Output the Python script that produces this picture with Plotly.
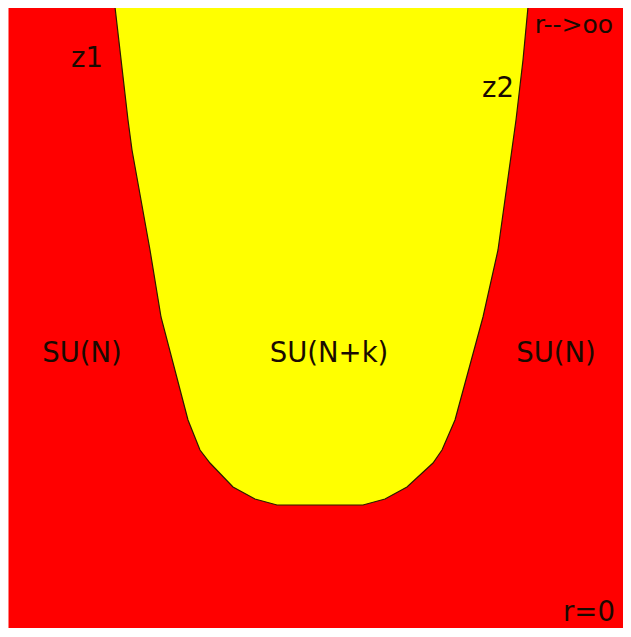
import plotly.graph_objects as go

# Region bounds (page-pixel coordinates of the diagram)
outer_x = [8.5, 631, 631, 8.5, 8.5]
outer_y = [7, 7, 628, 628, 7]

# Yellow SU(N+k) region boundary (z1 wall on the left, z2 wall on the right)
wall_x = [115, 121, 128, 132, 150, 161, 178, 188, 200, 210, 233, 255, 277, 363, 385, 407, 433, 442, 455, 465, 483, 498, 512, 516, 523, 528]
wall_y = [7, 60, 120, 150, 250, 317, 383, 420, 450, 463, 487, 499, 505, 505, 499, 487, 463, 450, 420, 383, 317, 250, 150, 120, 60, 7]

labels = ["z1", "z2", "r-->oo", "SU(N)", "SU(N+k)", "SU(N)", "r=0"]
label_x = [87, 498, 574, 82, 329, 556, 589]
label_y = [60, 90, 27, 355, 355, 355, 614]
label_size = [27.5, 27.5, 25, 27.5, 27.5, 27.5, 27.5]

fig = go.Figure()
fig.add_trace(go.Scatter(x=outer_x, y=outer_y, fill="toself", fillcolor="#ff0000",
                         line=dict(width=0), mode="lines", hoverinfo="skip"))
fig.add_trace(go.Scatter(x=wall_x + [wall_x[0]], y=wall_y + [wall_y[0]], fill="toself",
                         fillcolor="#ffff00", line=dict(width=0), mode="lines", hoverinfo="skip"))
fig.add_trace(go.Scatter(x=wall_x, y=wall_y, mode="lines",
                         line=dict(color="#2a1a00", width=1.2),
                         hoverinfo="skip"))
fig.add_trace(go.Scatter(x=label_x, y=label_y, mode="text", text=labels,
                         textfont=dict(family="DejaVu Sans", size=label_size, color="#1a0a00"),
                         hoverinfo="skip", cliponaxis=False))

# The page body adds an 8px margin, so the figure is sized to fit the rest.
fig.update_layout(width=623, height=621, margin=dict(l=0, r=0, t=0, b=0),
                  plot_bgcolor="white", paper_bgcolor="white", showlegend=False)
fig.update_xaxes(range=[8, 631], visible=False, fixedrange=True)
fig.update_yaxes(range=[629, 8], visible=False, fixedrange=True)
fig.write_html("out.html")
